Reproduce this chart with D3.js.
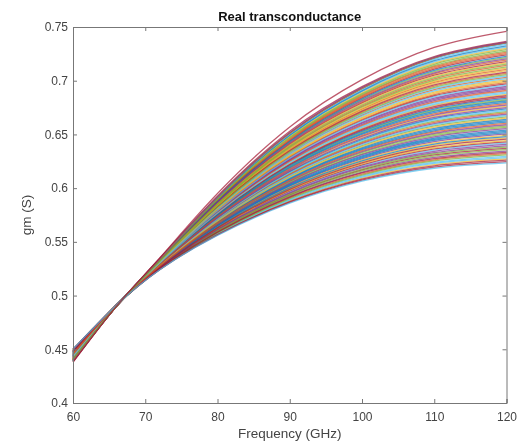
<!DOCTYPE html>
<html>
<head>
<meta charset="utf-8">
<script src="https://cdn.jsdelivr.net/npm/d3@7"></script>
<style>
  html, body { margin: 0; background: #fff; }
  svg { display: block; filter: blur(0.35px); }
  text { font-family: "Liberation Sans", Arial, sans-serif; }
</style>
</head>
<body>
<div id="chart"></div>
<script>
// Sampling frequencies shared by every curve (GHz)
const freq = [60, 66, 72, 80, 90, 100, 110, 120];
const freqTicks = [60, 70, 80, 90, 100, 110, 120];
const gmTicks = [0.4, 0.45, 0.5, 0.55, 0.6, 0.65, 0.7, 0.75];
const lineColors = ["#0072BD", "#D95319", "#EDB120", "#7E2F8E", "#77AC30", "#4DBEEE", "#A2142F"];

// gm (S), one row per curve
const gmCurves = [
  [.445,.491,.5285,.5720,.6151,.6452,.6646,.6737],
  [.449,.491,.5248,.5587,.5910,.6131,.6264,.6321],
  [.442,.490,.5309,.5806,.6307,.6660,.6894,.7007],
  [.447,.491,.5264,.5646,.6016,.6273,.6433,.6505],
  [.440,.490,.5334,.5892,.6464,.6868,.7141,.7276],
  [.448,.491,.5257,.5619,.5967,.6207,.6354,.6419],
  [.444,.491,.5295,.5755,.6215,.6538,.6748,.6848],
  [.446,.491,.5276,.5689,.6094,.6377,.6556,.6639],
  [.441,.490,.5321,.5849,.6385,.6764,.7018,.7142],
  [.450,.491,.5243,.5572,.5881,.6093,.6219,.6272],
  [.443,.490,.5304,.5786,.6272,.6613,.6838,.6946],
  [.447,.491,.5271,.5669,.6059,.6330,.6500,.6578],
  [.439,.490,.5339,.5911,.6499,.6916,.7198,.7338],
  [.449,.491,.5252,.5603,.5938,.6169,.6309,.6370],
  [.444,.491,.5291,.5739,.6187,.6500,.6703,.6799],
  [.442,.490,.5315,.5825,.6343,.6708,.6950,.7068],
  [.448,.491,.5261,.5634,.5995,.6245,.6399,.6468],
  [.446,.491,.5281,.5704,.6123,.6415,.6601,.6688],
  [.440,.490,.5328,.5872,.6428,.6821,.7085,.7215],
  [.444,.490,.5299,.5771,.6243,.6575,.6793,.6897],
  [.450,.491,.5241,.5564,.5867,.6074,.6196,.6247],
  [.447,.491,.5268,.5658,.6038,.6301,.6466,.6541],
  [.441,.490,.5318,.5837,.6364,.6736,.6984,.7105],
  [.445,.491,.5287,.5728,.6165,.6471,.6669,.6762],
  [.448,.491,.5254,.5611,.5952,.6188,.6331,.6394],
  [.444,.491,.5293,.5747,.6201,.6519,.6725,.6823],
  [.449,.491,.5246,.5580,.5896,.6112,.6241,.6296],
  [.443,.490,.5306,.5794,.6286,.6632,.6860,.6970],
  [.446,.491,.5274,.5681,.6080,.6358,.6534,.6615],
  [.440,.490,.5332,.5888,.6456,.6859,.7130,.7264],
  [.447,.491,.5263,.5642,.6009,.6263,.6421,.6492],
  [.443,.490,.5302,.5778,.6258,.6594,.6815,.6921],
  [.445,.491,.5283,.5712,.6137,.6434,.6624,.6713],
  [.450,.491,.5244,.5576,.5888,.6103,.6230,.6284],
  [.441,.490,.5325,.5860,.6407,.6793,.7051,.7178],
  [.447,.491,.5266,.5654,.6030,.6292,.6455,.6529],
  [.442,.490,.5312,.5814,.6322,.6679,.6916,.7031],
  [.444,.490,.5297,.5763,.6229,.6556,.6770,.6872],
  [.449,.491,.5250,.5595,.5924,.6150,.6286,.6345],
  [.446,.491,.5279,.5697,.6109,.6396,.6579,.6664],
  [.439,.490,.5337,.5903,.6485,.6897,.7175,.7313],
  [.448,.491,.5258,.5622,.5974,.6216,.6365,.6431],
  [.444,.491,.5292,.5743,.6194,.6509,.6714,.6811],
  [.445,.491,.5282,.5708,.6130,.6424,.6613,.6701],
  [.442,.490,.5317,.5833,.6357,.6727,.6973,.7093],
  [.447,.491,.5272,.5673,.6066,.6339,.6511,.6590],
  [.449,.491,.5251,.5599,.5931,.6160,.6298,.6358],
  [.442,.490,.5313,.5817,.6329,.6689,.6928,.7044],
  [.444,.490,.5296,.5759,.6222,.6547,.6759,.6860],
  [.446,.491,.5275,.5685,.6087,.6367,.6545,.6627],
  [.441,.490,.5326,.5864,.6414,.6802,.7063,.7191],
  [.448,.491,.5259,.5626,.5981,.6226,.6376,.6443],
  [.443,.490,.5303,.5782,.6265,.6604,.6826,.6933],
  [.449,.491,.5247,.5583,.5903,.6122,.6253,.6309],
  [.445,.491,.5284,.5716,.6144,.6443,.6635,.6725],
  [.442,.490,.5316,.5829,.6350,.6717,.6961,.7080],
  [.447,.491,.5265,.5650,.6023,.6282,.6444,.6517],
  [.443,.490,.5307,.5798,.6293,.6641,.6871,.6982],
  [.440,.490,.5336,.5899,.6478,.6887,.7164,.7301],
  [.445,.491,.5288,.5732,.6172,.6481,.6680,.6774],
  [.449,.491,.5253,.5607,.5945,.6178,.6320,.6382],
  [.446,.491,.5280,.5700,.6116,.6405,.6590,.6676],
  [.440,.490,.5330,.5880,.6442,.6840,.7108,.7240],
  [.448,.491,.5262,.5638,.6002,.6254,.6410,.6480],
  [.443,.490,.5301,.5775,.6251,.6585,.6804,.6909],
  [.441,.490,.5324,.5856,.6400,.6783,.7040,.7166],
  [.445,.491,.5286,.5724,.6158,.6462,.6658,.6750],
  [.447,.491,.5270,.5665,.6052,.6320,.6489,.6566],
  [.442,.490,.5310,.5810,.6314,.6670,.6905,.7019],
  [.450,.491,.5242,.5568,.5874,.6084,.6208,.6260],
  [.444,.491,.5294,.5751,.6208,.6528,.6736,.6835],
  [.440,.490,.5331,.5884,.6449,.6849,.7119,.7252],
  [.446,.491,.5277,.5693,.6101,.6386,.6568,.6652],
  [.448,.491,.5255,.5615,.5959,.6197,.6343,.6407],
  [.442,.490,.5314,.5821,.6336,.6698,.6939,.7056],
  [.444,.490,.5298,.5767,.6236,.6566,.6781,.6884],
  [.449,.491,.5249,.5591,.5917,.6141,.6275,.6333],
  [.439,.490,.5338,.5907,.6492,.6906,.7186,.7325],
  [.445,.491,.5290,.5736,.6180,.6490,.6691,.6786],
  [.443,.490,.5308,.5802,.6300,.6651,.6883,.6995],
  [.447,.491,.5269,.5661,.6045,.6311,.6478,.6554],
  [.441,.490,.5323,.5853,.6393,.6774,.7029,.7154],
  [.443,.490,.5305,.5790,.6279,.6623,.6849,.6958],
  [.448,.491,.5260,.5630,.5988,.6235,.6388,.6456],
  [.440,.490,.5329,.5876,.6435,.6830,.7096,.7227],
  [.446,.491,.5273,.5677,.6073,.6349,.6523,.6603],
  [.441,.490,.5319,.5841,.6371,.6745,.6995,.7117],
  [.441,.490,.5327,.5868,.6421,.6812,.7074,.7203],
  [.440,.490,.5335,.5895,.6471,.6878,.7153,.7289],
  [.439,.490,.5340,.5915,.6506,.6925,.7209,.7350],
  [.438,.490,.5345,.5925,.6530,.6945,.7225,.7365],
  [.439,.490,.5341,.5917,.6510,.6928,.7212,.7352],
  [.439,.490,.5341,.5918,.6511,.6929,.7213,.7354],
  [.439,.490,.5342,.5919,.6512,.6930,.7215,.7355],
  [.439,.490,.5343,.5920,.6515,.6935,.7218,.7358],
  [.441,.490,.5320,.5845,.6378,.6755,.7006,.7129],
  [.450,.491,.5240,.5560,.5860,.6065,.6185,.6235],
  [.438,.490,.5350,.5950,.6570,.7010,.7310,.7460]
];

// Set up margins and dimensions
const margin = { top: 27, right: 12.5, bottom: 38, left: 73 };
const width = 519 - margin.left - margin.right;
const height = 441 - margin.top - margin.bottom;

const svg = d3
  .select("#chart")
  .append("svg")
  .attr("width", 519)
  .attr("height", 441)
  .append("g")
  .attr("transform", `translate(${margin.left},${margin.top})`);

const x = d3.scaleLinear().domain([60, 120]).range([0, width]);
const y = d3.scaleLinear().domain([0.4, 0.75]).range([height, 0]);

const line = d3
  .line()
  .x((d, i) => x(freq[i]))
  .y((d) => y(d))
  .curve(d3.curveNatural);

// Draw the curves, colours cycle like the default plot order
svg
  .append("g")
  .attr("class", "curves")
  .style("filter", "blur(0.5px)")
  .selectAll("path")
  .data(gmCurves)
  .join("path")
  .attr("d", line)
  .attr("fill", "none")
  .attr("stroke-width", 1.3)
  .attr("stroke-opacity", 0.7)
  .attr("stroke", (d, i) => lineColors[i % lineColors.length]);

// Box axes with inward ticks
const axisColor = "#777";
const tickColor = "#444";

const xAxis = svg
  .append("g")
  .attr("transform", `translate(0,${height})`)
  .call(d3.axisBottom(x).tickValues(freqTicks).tickSize(-4).tickPadding(9));
const yAxis = svg
  .append("g")
  .call(d3.axisLeft(y).tickValues(gmTicks).tickFormat((d) => d).tickSize(-4).tickPadding(5));
const topAxis = svg
  .append("g")
  .call(d3.axisTop(x).tickValues(freqTicks).tickSize(-4).tickFormat(""));
const rightAxis = svg
  .append("g")
  .attr("transform", `translate(${width},0)`)
  .call(d3.axisRight(y).tickValues(gmTicks).tickSize(-4).tickFormat(""));

[xAxis, yAxis, topAxis, rightAxis].forEach((axis) => {
  axis.selectAll("path").attr("stroke", axisColor);
  axis.selectAll("line").attr("stroke", axisColor);
  axis
    .selectAll("text")
    .attr("fill", tickColor)
    .style("font-size", "12px")
    .style("font-family", '"Liberation Sans", Arial, sans-serif');
});

// Axis labels and title
svg
  .append("text")
  .attr("x", width / 2)
  .attr("y", height + 35)
  .attr("text-anchor", "middle")
  .attr("fill", tickColor)
  .style("font-size", "13.5px")
  .text("Frequency (GHz)");

svg
  .append("text")
  .attr("transform", "rotate(-90)")
  .attr("x", -height / 2)
  .attr("y", -42)
  .attr("text-anchor", "middle")
  .attr("fill", tickColor)
  .style("font-size", "13.5px")
  .text("gm (S)");

svg
  .append("text")
  .attr("x", width / 2)
  .attr("y", -6)
  .attr("text-anchor", "middle")
  .attr("fill", "#111")
  .style("font-size", "13px")
  .style("font-weight", "bold")
  .text("Real transconductance");
</script>
</body>
</html>
